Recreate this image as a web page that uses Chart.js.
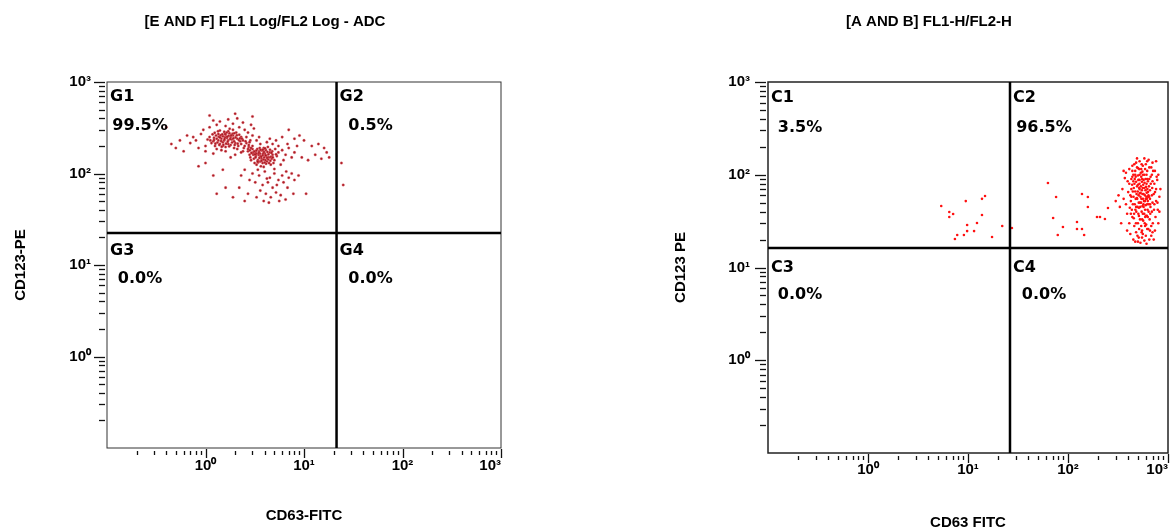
<!DOCTYPE html>
<html>
<head>
<meta charset="utf-8">
<script src="https://cdn.jsdelivr.net/npm/chart.js@4.4.1/dist/chart.umd.min.js"></script>
<style>
  html, body { margin: 0; padding: 0; background: #fff; overflow: hidden; }
  #wrap { position: relative; width: 1170px; height: 532px; overflow: hidden; }
  canvas { position: absolute; top: 0; }
  #left  { left: 0; }
  #right { left: 585px; }
</style>
</head>
<body>
<div id="wrap">
  <canvas id="left" width="530" height="532"></canvas>
  <canvas id="right" width="688" height="532"></canvas>
</div>
<script>
// ─── Axis ticks (shared by both plots) ────────────────────────────────────

const DECADES = [0.1, 1, 10, 100, 1000];
const MINOR_STEPS = [2, 3, 4, 5, 6, 7, 8, 9];
const LABELED_TICKS = [1, 10, 100, 1000];
const TICK_LABELS = ['10⁰', '10¹', '10²', '10³'];

// ─── Left plot: [E AND F] ─────────────────────────────────────────────────

const LEFT_TITLE = '[E AND F] FL1 Log/FL2 Log - ADC';
const LEFT_X_TITLE = 'CD63-FITC';
const LEFT_Y_TITLE = 'CD123-PE';
const LEFT_GATE = [21.4, 22.4];
const LEFT_QUAD_NAMES = ['G1', 'G2', 'G3', 'G4'];
const LEFT_QUAD_PCT = ['99.5%', '0.5%', '0.0%', '0.0%'];

const LEFT_EVENTS = [
  // first dense core
  [1.3,240],[1.5,255],[1.4,210],[1.7,230],[1.9,260],[1.6,195],[1.2,225],[1.35,270],[1.8,205],[2.1,240],
  [1.55,285],[1.45,180],[2.0,215],[1.25,200],[1.65,245],[1.75,275],[1.95,190],[2.2,265],[1.1,250],[1.5,220],
  [1.85,235],[1.4,295],[1.6,265],[1.3,185],[2.05,280],[1.15,215],[1.7,210],[2.25,225],[1.45,240],[1.9,300],
  [1.35,230],[1.6,175],[2.15,200],[1.55,230],[1.8,250],[1.28,260],[1.05,235],[2.3,250],[1.7,290],[1.5,200],
  [1.95,225],[1.42,262],[1.62,212],[1.22,245],[1.88,272],[2.1,185],[1.38,205],[1.72,258],[1.58,248],[1.32,218],
  [1.22,232],[1.48,268],[1.68,222],[1.82,262],[2.02,248],[1.36,252],[1.52,206],[1.78,238],[1.98,205],[1.18,268],
  [1.44,226],[1.64,280],[1.92,242],[2.18,232],[1.26,212],[1.56,238],[1.74,198],[2.08,262],[1.34,290],[1.66,252],
  [1.12,230],[1.86,218],[2.12,212],[1.46,196],[1.76,308],[1.24,278],[1.58,270],[1.96,275],[2.24,242],[1.4,248],
  // second dense core
  [3.2,170],[3.6,155],[4.0,165],[3.4,140],[4.4,150],[3.0,185],[3.8,130],[4.8,160],[2.8,160],[3.5,175],
  [4.2,135],[3.1,145],[5.0,140],[3.9,190],[4.6,125],[2.7,175],[3.3,125],[4.1,180],[3.7,145],[5.3,155],
  [2.9,140],[4.5,170],[3.45,160],[3.95,150],[4.3,195],[3.05,160],[3.65,120],[4.9,130],[2.75,195],[5.5,170],
  [3.55,190],[4.15,155],[3.25,155],[4.7,145],[3.85,165],[3.15,130],[4.05,140],[3.75,178],[4.35,162],[2.85,150],
  [5.1,185],[3.35,185],[4.55,138],[3.9,118],[3.0,200],[4.25,172],[3.6,135],[4.75,175],[3.3,165],[3.8,158],
  [3.12,175],[3.52,148],[3.92,172],[3.42,132],[4.32,142],[3.02,168],[3.72,138],[4.62,152],[2.92,168],[3.58,165],
  [4.12,128],[3.22,150],[4.82,150],[3.82,182],[4.42,130],[2.82,180],[3.38,135],[4.02,188],[3.68,152],[5.2,162],
  [3.48,168],[4.22,148],[3.18,162],[3.88,142],[4.52,182],[3.28,178],[4.68,168],[3.62,182],[4.08,158],[3.98,132],
  // bridge between the cores
  [2.3,210],[2.45,190],[2.6,215],[2.75,205],[2.9,190],[2.4,175],[2.55,225],[2.7,185],[2.35,240],[2.85,230],
  // spread around the cores
  [0.8,230],[0.9,270],[1.0,200],[0.75,250],[0.95,300],[1.1,320],[1.3,340],[1.6,330],[1.9,350],[2.2,320],
  [2.5,300],[2.4,230],[2.6,250],[2.5,200],[2.3,170],[2.8,220],[3.0,260],[3.3,230],[3.6,210],[4.2,220],
  [4.8,210],[5.5,200],[6.0,180],[6.5,160],[7.0,190],[6.2,140],[5.8,125],[7.5,150],[8.0,170],[2.0,160],
  [1.8,150],[1.2,165],[1.0,175],[0.85,190],[2.7,280],[3.5,250],[4.5,240],[5.2,230],[6.8,210],[2.4,360],
  [1.4,370],[1.7,390],[2.1,400],[1.2,380],[3.1,310],[2.9,340],[0.7,215],[0.65,260],[6.0,250],[8.5,200],
  // lower lobe
  [2.5,110],[3.0,100],[3.5,95],[4.0,105],[4.5,90],[5.0,100],[5.5,85],[6.0,95],[3.2,80],[3.8,75],
  [4.3,80],[4.8,70],[5.3,75],[6.2,80],[6.8,70],[2.8,85],[2.3,95],[3.6,65],[4.1,60],[4.6,55],
  [5.2,62],[5.8,58],[3.3,55],[2.7,60],[7.0,90],[7.5,100],[8.0,85],[8.8,95],[2.2,70],[3.9,50],
  [4.4,48],[5.6,50],[6.5,52],[2.5,50],[1.9,55],[7.8,60],[4.2,88],[3.4,110],[6.6,105],[5.0,112],
  // outliers
  [0.45,210],[0.5,190],[0.55,230],[0.6,175],[0.4,320],[1.5,110],[1.2,95],[1.0,130],[9.5,150],[11,140],
  [13,160],[15,145],[17,170],[16,190],[12,200],[10,230],[9,260],[18,150],[7,300],[1.6,70],
  [1.3,60],[10.5,60],[24,130],[25,75],[0.85,120],[14,210],[8,240],[1.1,430],[2.0,450],[3.0,420],
];

// ─── Right plot: [A AND B] ────────────────────────────────────────────────

const RIGHT_TITLE = '[A AND B] FL1-H/FL2-H';
const RIGHT_X_TITLE = 'CD63 FITC';
const RIGHT_Y_TITLE = 'CD123 PE';
const RIGHT_GATE = [26.3, 16.2];
const RIGHT_QUAD_NAMES = ['C1', 'C2', 'C3', 'C4'];
const RIGHT_QUAD_PCT = ['3.5%', '96.5%', '0.0%', '0.0%'];

const RIGHT_EVENTS = [
  // main population
  [420,60],[480,45],[520,70],[560,38],[600,55],[450,85],[500,30],[540,95],[590,42],[630,65],
  [470,110],[510,50],[550,25],[610,80],[440,35],[490,75],[530,58],[580,100],[640,48],[460,28],
  [505,88],[545,40],[595,68],[425,52],[485,62],[525,33],[565,78],[615,36],[455,72],[495,22],
  [535,105],[575,52],[620,90],[435,42],[475,95],[515,26],[555,62],[605,29],[645,75],[400,65],
  [380,48],[410,80],[360,55],[390,38],[370,92],[350,70],[330,45],[320,60],[340,30],[300,52],
  [660,55],[690,40],[720,62],[750,35],[700,85],[680,28],[730,48],[760,70],[790,42],[820,58],
  [710,110],[670,95],[740,25],[780,88],[800,30],[650,120],[600,130],[560,125],[520,140],[480,135],
  [440,125],[580,150],[640,145],[700,135],[500,118],[540,115],[620,110],[450,100],[410,115],[380,105],
  [450,20],[500,19],[550,21],[600,22],[650,20],[700,24],[480,24],[530,18.5],[580,19.5],[620,26],
  [680,22],[420,23],[390,25],[560,23],[510,21],[470,19],[610,18],[660,25],[720,20],[540,28],
  [430,58],[465,48],[498,66],[528,45],[562,55],[598,47],[632,58],[668,45],[445,66],[482,40],
  [518,80],[552,33],[588,60],[625,42],[660,68],[700,50],[415,44],[458,38],[492,55],[522,63],
  [558,72],[592,35],[628,52],[665,38],[695,72],[438,78],[478,30],[512,44],[548,84],[585,30],
  [622,70],[655,33],[690,60],[725,42],[760,52],[410,30],[440,95],[470,66],[505,38],[538,50],
  [570,45],[603,74],[635,26],[672,80],[705,30],[742,65],[785,50],[820,40],[840,70],[770,95],
  [460,130],[520,100],[570,88],[610,100],[650,90],[690,100],[730,80],[430,90],[395,85],[360,110],
  [590,115],[545,130],[490,150],[620,140],[680,120],[740,110],[800,100],[760,140],[500,98],[555,108],
  [445,48],[488,56],[532,64],[568,48],[608,58],[462,80],[512,36],[548,68],[582,82],[638,60],
  [472,42],[515,72],[556,46],[596,90],[628,35],[452,58],[496,45],[542,55],[578,38],[618,48],
  [465,90],[508,60],[552,90],[588,52],[648,58],[430,70],[475,55],[520,88],[565,32],[612,64],
  [455,34],[500,78],[545,24],[590,28],[640,40],[425,38],[470,100],[515,115],[560,100],[600,36],
  [480,84],[525,50],[570,62],[615,55],[660,48],[440,110],[490,120],[535,75],[580,72],[630,85],
  // scattered in C2
  [63,81.5],[76,57.5],[138,62],[158,57.5],[158,44.9],[71,34.2],[89,27.3],[79,22.4],[123,31],[123,26],
  [138,26],[145,22.4],[195,35],[209,35],[234,33.3],[251,43.8],[27.5,26.7],
  // C1
  [5.4,46],[9.5,52],[13.8,55],[14.8,59],[6.5,39.7],[6.5,35],[7.1,37.8],[13.8,36.8],[12.3,30.2],[9.8,28.7],
  [9.8,24.7],[11.5,24.7],[7.8,22.4],[9.1,22.4],[7.4,20.3],[17.4,21.3],[22,28],
];

// ─── Helpers ──────────────────────────────────────────────────────────────

const FONT = '"Liberation Sans", Arial, sans-serif';

const TICK_VALUES = [];
DECADES.forEach((d, i) => {
  if (i > 0) TICK_VALUES.push(d);
  if (i < DECADES.length - 1) MINOR_STEPS.forEach(m => TICK_VALUES.push(d * m));
});

function tickLabel(v) {
  const i = LABELED_TICKS.findIndex(t => Math.abs(t - v) < 1e-9);
  return i >= 0 ? TICK_LABELS[i] : '';
}

function isMajor(v) {
  return LABELED_TICKS.some(t => Math.abs(t - v) < 1e-9);
}

// frame, tick marks, quadrant gates and their labels
const flowPlot = {
  id: 'flowPlot',
  afterDraw(chart, args, o) {
    const { ctx, chartArea: a, scales: { x, y } } = chart;
    ctx.save();

    ctx.strokeStyle = '#111';
    ctx.lineWidth = 1.3;
    x.ticks.forEach(t => {
      const px = Math.round(x.getPixelForValue(t.value)) + 0.5;
      const maj = isMajor(t.value);
      ctx.beginPath();
      ctx.moveTo(px, a.bottom + (maj ? 1 : 3));
      ctx.lineTo(px, a.bottom + (maj ? 10 : 7));
      ctx.stroke();
    });
    y.ticks.forEach(t => {
      const py = Math.round(y.getPixelForValue(t.value)) + 0.5;
      const maj = isMajor(t.value);
      ctx.beginPath();
      ctx.moveTo(a.left - (maj ? 13 : 8), py);
      ctx.lineTo(a.left - 2, py);
      ctx.stroke();
    });

    ctx.strokeStyle = o.frameColor;
    ctx.lineWidth = o.frameWidth;
    ctx.strokeRect(a.left, a.top, a.width, a.height);

    const gx = x.getPixelForValue(o.gate[0]);
    const gy = y.getPixelForValue(o.gate[1]);
    ctx.strokeStyle = '#000';
    ctx.lineWidth = 2.5;
    ctx.beginPath();
    ctx.moveTo(gx, a.top); ctx.lineTo(gx, a.bottom);
    ctx.moveTo(a.left, gy); ctx.lineTo(a.right, gy);
    ctx.stroke();

    ctx.fillStyle = '#000';
    ctx.font = 'bold 16px "DejaVu Sans", sans-serif';
    ctx.textBaseline = 'middle';
    const cols = [a.left, gx];
    const rows = [a.top, gy];
    o.names.forEach((n, i) => {
      const cx = cols[i % 2];
      const r = Math.floor(i / 2);
      const cy = rows[r];
      ctx.textAlign = 'left';
      ctx.fillText(n, cx + 3, cy + o.nameDy[r]);
      ctx.textAlign = 'center';
      ctx.fillText(o.pct[i], cx + o.pctDx[i % 2], cy + o.pctDy[r]);
    });
    ctx.restore();
  },
};

function makePlot(id, cfg) {
  return new Chart(document.getElementById(id), {
    type: 'scatter',
    data: {
      datasets: [{
        data: cfg.events,
        backgroundColor: cfg.dotColor,
        borderColor: cfg.haloColor,
        borderWidth: cfg.haloWidth,
        pointRadius: cfg.dotSize,
        pointHoverRadius: cfg.dotSize,
      }],
    },
    options: {
      responsive: false,
      animation: false,
      events: [],
      layout: { padding: 0 },
      plugins: {
        legend: { display: false },
        tooltip: { enabled: false },
        title: {
          display: true,
          text: cfg.title,
          color: '#000',
          font: { family: FONT, size: 15, weight: 'bold' },
          padding: { top: 13, bottom: 51 },
        },
        flowPlot: cfg.quad,
      },
      scales: {
        x: {
          type: 'logarithmic',
          min: 0.1, max: 1000,
          afterBuildTicks: s => { s.ticks = TICK_VALUES.map(v => ({ value: v })); },
          afterFit: s => { s.height = cfg.xAxisHeight; },
          grid: { display: false, drawTicks: false },
          border: { display: false },
          ticks: {
            autoSkip: false, maxRotation: 0, minRotation: 0,
            align: 'inner',
            padding: cfg.xTickPad,
            color: '#000',
            font: { family: FONT, size: 15, weight: 'bold' },
            callback: v => tickLabel(v),
          },
          title: {
            display: true, text: cfg.xTitle, color: '#000',
            font: { family: FONT, size: 15, weight: 'bold' },
            padding: { top: 0, bottom: cfg.xTitlePad },
          },
        },
        y: {
          type: 'logarithmic',
          min: 0.1, max: 1000,
          afterBuildTicks: s => { s.ticks = TICK_VALUES.map(v => ({ value: v })); },
          afterFit: s => { s.width = cfg.yAxisWidth; },
          grid: { display: false, drawTicks: false },
          border: { display: false },
          ticks: {
            autoSkip: false,
            padding: cfg.yTickPad,
            color: '#000',
            font: { family: FONT, size: 15, weight: 'bold' },
            callback: v => tickLabel(v),
          },
          title: {
            display: true, text: cfg.yTitle, color: '#000',
            font: { family: FONT, size: 15, weight: 'bold' },
            padding: { top: cfg.yTitlePad, bottom: 0 },
          },
        },
        // empty right-hand strip so the title centres like the original
        pad: {
          type: 'linear',
          position: 'right',
          grid: { display: false, drawTicks: false },
          border: { display: false },
          ticks: { display: false },
          afterFit: s => { s.width = cfg.rightGap; },
        },
      },
    },
    plugins: [flowPlot],
  });
}

makePlot('left', {
  events: LEFT_EVENTS,
  dotColor: 'rgba(168,18,26,0.95)',
  haloColor: 'rgba(235,120,130,0.35)',
  haloWidth: 1,
  dotSize: 1.3,
  title: LEFT_TITLE,
  xTitle: LEFT_X_TITLE,
  yTitle: LEFT_Y_TITLE,
  xAxisHeight: 84, xTickPad: 9, xTitlePad: 7,
  yAxisWidth: 107, yTickPad: 16, yTitlePad: 12,
  rightGap: 29,
  quad: {
    gate: LEFT_GATE, names: LEFT_QUAD_NAMES, pct: LEFT_QUAD_PCT,
    frameColor: '#333', frameWidth: 1,
    nameDy: [15, 18], pctDy: [44, 46], pctDx: [33, 34],
  },
});

makePlot('right', {
  events: RIGHT_EVENTS,
  dotColor: '#ff1010',
  haloColor: 'rgba(255,16,16,0)',
  haloWidth: 0,
  dotSize: 1.3,
  title: RIGHT_TITLE,
  xTitle: RIGHT_X_TITLE,
  yTitle: RIGHT_Y_TITLE,
  xAxisHeight: 79, xTickPad: 8, xTitlePad: 0,
  yAxisWidth: 183, yTickPad: 18, yTitlePad: 87,
  rightGap: 105,
  quad: {
    gate: RIGHT_GATE, names: RIGHT_QUAD_NAMES, pct: RIGHT_QUAD_PCT,
    frameColor: '#222', frameWidth: 1.5,
    nameDy: [16, 20], pctDy: [46, 47], pctDx: [32, 34],
  },
});
</script>
</body>
</html>
